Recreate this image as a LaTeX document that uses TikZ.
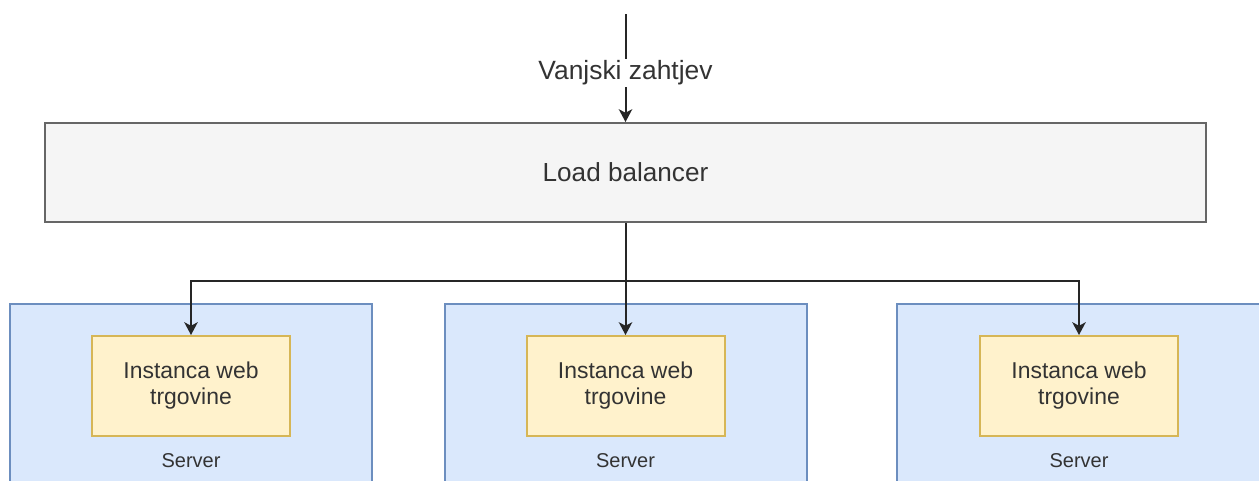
\documentclass[tikz,border=0pt]{standalone}
\usepackage{fontspec}
\setmainfont{Liberation Sans}
\usetikzlibrary{arrows.meta,positioning}
\definecolor{lbfill}{HTML}{F5F5F5}
\definecolor{lbline}{HTML}{666666}
\definecolor{srvfill}{HTML}{DAE8FC}
\definecolor{srvline}{HTML}{6C8EBF}
\definecolor{instfill}{HTML}{FFF2CC}
\definecolor{instline}{HTML}{D6B656}
\definecolor{txt}{HTML}{333333}

\begin{document}
\begin{tikzpicture}[x=0.75pt,y=-0.75pt,node distance=56.25pt,on grid,
  box/.style={draw,rectangle,line width=1.5pt,inner sep=0pt},
  lb/.style={box,draw=lbline,fill=lbfill,minimum width=870.75pt,minimum height=74.25pt,
    text=txt,font=\fontsize{19.6}{23}\selectfont},
  server/.style={box,draw=srvline,fill=srvfill,minimum width=271.5pt,minimum height=150pt},
  inst/.style={box,draw=instline,fill=instfill,minimum width=148.5pt,minimum height=75pt,
    align=center,text=txt,font=\fontsize{17.2}{19.5}\selectfont},
  lbl/.style={text=txt,font=\fontsize{15}{18}\selectfont},
  conn/.style={-{Stealth[length=9.5pt,width=10pt,inset=2.5pt]},line width=1.5pt,draw=black!85}]
\useasboundingbox (0,0) rectangle (1259,480);

\coordinate (req) at (625.5,14);
\node[lb] (lb) at (625.5,172.5) {Load balancer};

\node[server] (srv1) at (191,404) {};
\node[server] (srv2) at (625.5,404) {};
\node[server, minimum width=272.25pt] (srv3) at (1078.5,404) {};

\node[inst] (inst1) at (191,386) {Instanca web\\trgovine};
\node[inst] (inst2) at (625.5,386) {Instanca web\\trgovine};
\node[inst] (inst3) at (1079,386) {Instanca web\\trgovine};

\node[lbl, below=of inst1] (lbl1) {Server};
\node[lbl, below=of inst2] (lbl2) {Server};
\node[lbl, below=of inst3] (lbl3) {Server};

\draw[conn] (req) -- node[pos=0.545,fill=white,inner sep=1.5pt,text=txt,
  font=\fontsize{19.8}{23}\selectfont] {Vanjski zahtjev} (lb);
\draw[conn] (lb.south) -- ++(0,58) -| (inst1.north);
\draw[conn] (lb.south) -- (inst2.north);
\draw[conn] (lb.south) -- ++(0,58) -| (inst3.north);
\end{tikzpicture}
\end{document}
